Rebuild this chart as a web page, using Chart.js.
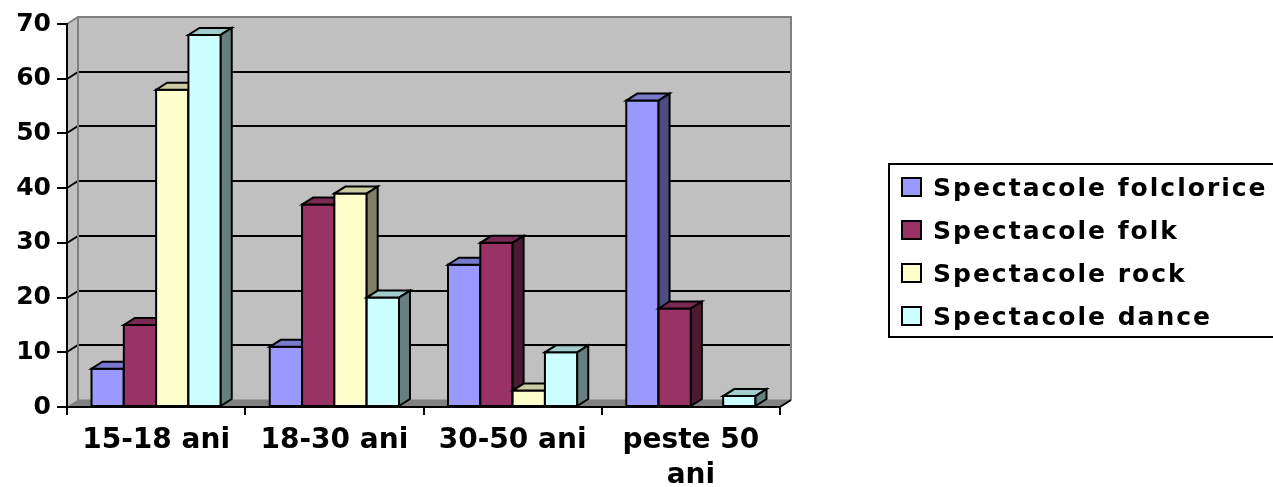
<!DOCTYPE html>
<html>
<head>
<meta charset="utf-8">
<script src="https://cdn.jsdelivr.net/npm/chart.js@4.4.1/dist/chart.umd.min.js"></script>
<style>
  html, body { margin: 0; padding: 0; background: #fff; }
  #wrap { width: 1273px; height: 487px; position: relative; }
</style>
</head>
<body>
<div id="wrap"><canvas id="chart"></canvas></div>
<script>
const categories = ['15-18 ani', '18-30 ani', '30-50 ani', ['peste 50', 'ani']];
const seriesNames = ['Spectacole folclorice', 'Spectacole folk', 'Spectacole rock', 'Spectacole dance'];
const folclorice = [7, 11, 26, 56];
const folk = [15, 37, 30, 18];
const rock = [58, 39, 3, 0];
const dance = [68, 20, 10, 2];
const yTicks = [0, 10, 20, 30, 40, 50, 60, 70];

const frontColors = ['#9999ff', '#993366', '#ffffcc', '#ccffff'];
const topColors = ['#7a7acc', '#7a2952', '#cccca3', '#a3cccc'];
const sideColors = ['#4d4d80', '#4d1a33', '#808066', '#668080'];

const FONT = '"DejaVu Sans", "Liberation Sans", Arial, sans-serif';
// depth offset of the 3D walls and bars
const DX = 11, DY = -7;

function poly(ctx, pts, fill, stroke, lw) {
  ctx.beginPath();
  ctx.moveTo(pts[0][0], pts[0][1]);
  for (let i = 1; i < pts.length; i++) ctx.lineTo(pts[i][0], pts[i][1]);
  ctx.closePath();
  if (fill) { ctx.fillStyle = fill; ctx.fill(); }
  if (stroke) { ctx.strokeStyle = stroke; ctx.lineWidth = lw; ctx.stroke(); }
}

const wallsPlugin = {
  id: 'walls',
  beforeDraw(chart) {
    const { ctx, chartArea: a, scales: { y } } = chart;
    ctx.save();
    ctx.lineJoin = 'miter';
    // back wall
    poly(ctx, [[a.left + DX, a.top + DY], [a.right + DX, a.top + DY],
               [a.right + DX, a.bottom + DY], [a.left + DX, a.bottom + DY]], '#c0c0c0');
    // left wall
    poly(ctx, [[a.left, a.bottom], [a.left, a.top], [a.left + DX, a.top + DY],
               [a.left + DX, a.bottom + DY]], '#c0c0c0');
    // floor
    poly(ctx, [[a.left, a.bottom], [a.right, a.bottom], [a.right + DX, a.bottom + DY],
               [a.left + DX, a.bottom + DY]], '#808080', '#808080', 1);
    // grid lines on left and back wall
    ctx.strokeStyle = '#000';
    ctx.lineWidth = 2;
    yTicks.forEach(v => {
      if (v === y.min || v === y.max) return;
      const py = Math.round(y.getPixelForValue(v));
      ctx.beginPath();
      ctx.moveTo(a.left, py);
      ctx.lineTo(a.left + DX, py + DY);
      ctx.lineTo(a.right + DX, py + DY);
      ctx.stroke();
    });
    // wall edges
    ctx.strokeStyle = '#808080';
    ctx.beginPath();
    ctx.moveTo(a.left, a.top);
    ctx.lineTo(a.left + DX, a.top + DY);
    ctx.lineTo(a.right + DX, a.top + DY);
    ctx.lineTo(a.right + DX, a.bottom + DY);
    ctx.moveTo(a.left + DX, a.top + DY);
    ctx.lineTo(a.left + DX, a.bottom + DY);
    ctx.stroke();
    ctx.strokeStyle = '#000';
    ctx.beginPath();
    ctx.moveTo(a.right, a.bottom);
    ctx.lineTo(a.right + DX, a.bottom + DY);
    ctx.stroke();
    ctx.restore();
  }
};

// redraw each bar as a box (front, top, side), series by series left to right
const barsPlugin = {
  id: 'bars3d',
  afterDatasetsDraw(chart) {
    const ctx = chart.ctx;
    ctx.save();
    ctx.lineJoin = 'miter';
    chart.data.datasets.forEach((ds, d) => {
      const meta = chart.getDatasetMeta(d);
      meta.data.forEach((el, i) => {
        if (!ds.data[i]) return;
        const l = el.x - el.width / 2, r = el.x + el.width / 2;
        const t = el.y, b = el.base;
        poly(ctx, [[l, t], [r, t], [r, b], [l, b]], frontColors[d], '#000', 2);
        poly(ctx, [[l, t], [r, t], [r + DX, t + DY], [l + DX, t + DY]], topColors[d], '#000', 2);
        poly(ctx, [[r, t], [r + DX, t + DY], [r + DX, b + DY], [r, b]], sideColors[d], '#000', 2);
      });
    });
    ctx.restore();
  }
};

const legendPlugin = {
  id: 'legendBox',
  afterDraw(chart) {
    const ctx = chart.ctx;
    const x0 = 889, y0 = 164, w = 420, h = 173;
    const rowY = 187, step = 43;
    ctx.save();
    ctx.strokeStyle = '#000';
    ctx.lineWidth = 2;
    ctx.strokeRect(x0, y0, w, h);
    ctx.font = 'bold 25px ' + FONT;
    ctx.letterSpacing = '2px';
    ctx.textBaseline = 'alphabetic';
    ctx.textAlign = 'left';
    chart.data.datasets.forEach((ds, d) => {
      const cy = rowY + d * step;
      ctx.fillStyle = frontColors[d];
      ctx.fillRect(902, cy - 9, 19, 18);
      ctx.strokeStyle = '#000';
      ctx.lineWidth = 2;
      ctx.strokeRect(902, cy - 9, 19, 18);
      ctx.fillStyle = '#000';
      ctx.fillText(ds.label, 933, cy + 9);
    });
    ctx.restore();
  }
};

const seriesData = [folclorice, folk, rock, dance];

new Chart(document.getElementById('chart'), {
  type: 'bar',
  data: {
    labels: categories,
    datasets: seriesNames.map((name, d) => ({
      label: name,
      data: seriesData[d],
      backgroundColor: frontColors[d],
      borderWidth: 0,
      categoryPercentage: 0.725,
      barPercentage: 1.0
    }))
  },
  options: {
    responsive: true,
    maintainAspectRatio: false,
    animation: false,
    events: [],
    layout: { padding: { left: 0, top: 24, right: 493, bottom: 0 } },
    plugins: {
      legend: { display: false },
      tooltip: { enabled: false }
    },
    scales: {
      x: {
        ticks: {
          color: '#000',
          font: { family: FONT, size: 28, weight: 'bold', lineHeight: 1.25 },
          padding: 8,
          maxRotation: 0,
          autoSkip: false
        },
        grid: { offset: true, drawOnChartArea: false, tickLength: 8, color: '#000', lineWidth: 2 },
        border: { color: '#000', width: 2 },
        afterFit(s) { s.height = 80; }
      },
      y: {
        min: 0,
        max: 70,
        afterBuildTicks(s) { s.ticks = yTicks.map(v => ({ value: v })); },
        ticks: {
          color: '#000',
          font: { family: FONT, size: 25, weight: 'bold' },
          padding: 6
        },
        grid: { drawOnChartArea: false, tickLength: 10, color: '#000', lineWidth: 2 },
        border: { color: '#000', width: 2 },
        afterFit(s) { s.width = 67; }
      }
    }
  },
  plugins: [wallsPlugin, barsPlugin, legendPlugin]
});
</script>
</body>
</html>
